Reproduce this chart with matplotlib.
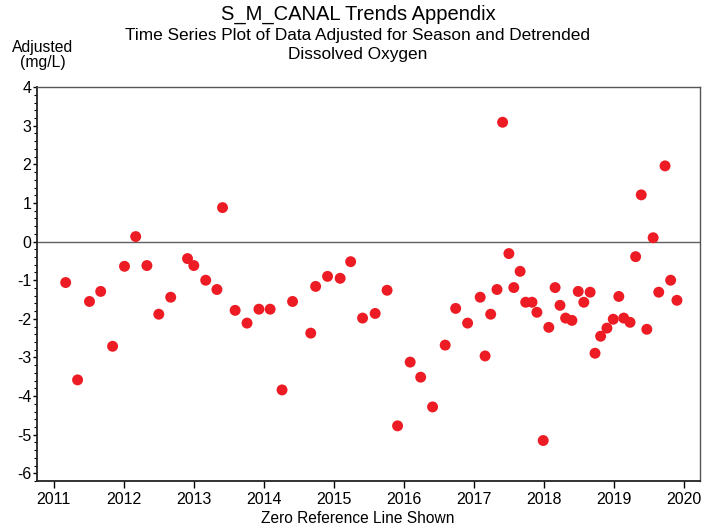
import matplotlib
matplotlib.use("Agg")
import matplotlib.pyplot as plt
from matplotlib.ticker import MultipleLocator

plt.rcParams['font.family'] = ['Liberation Sans', 'DejaVu Sans']
plt.rcParams['axes.unicode_minus'] = False

# decimal year of each sample and its adjusted, detrended value (mg/L)
sample_year = [
    2011.17, 2011.34, 2011.51, 2011.67, 2011.84, 2012.01, 2012.17, 2012.33,
    2012.50, 2012.67, 2012.91, 2013.00, 2013.17, 2013.33, 2013.41, 2013.59,
    2013.76, 2013.93, 2014.09, 2014.26, 2014.41, 2014.67, 2014.74, 2014.91,
    2015.09, 2015.24, 2015.41, 2015.59, 2015.76, 2015.91, 2016.09, 2016.24,
    2016.41, 2016.59, 2016.74, 2016.91, 2017.09, 2017.16, 2017.24, 2017.33,
    2017.41, 2017.50, 2017.57, 2017.66, 2017.74, 2017.83, 2017.90, 2017.99,
    2018.07, 2018.16, 2018.23, 2018.31, 2018.40, 2018.49, 2018.57, 2018.66,
    2018.73, 2018.81, 2018.90, 2018.99, 2019.07, 2019.14, 2019.23, 2019.31,
    2019.39, 2019.47, 2019.56, 2019.64, 2019.73, 2019.81, 2019.90,
]
adjusted_do = [
    -1.06, -3.58, -1.55, -1.29, -2.71, -0.64, 0.13, -0.62,
    -1.88, -1.44, -0.44, -0.62, -1.00, -1.24, 0.88, -1.78,
    -2.11, -1.75, -1.75, -3.84, -1.55, -2.37, -1.16, -0.90,
    -0.95, -0.52, -1.98, -1.86, -1.26, -4.77, -3.12, -3.51,
    -4.28, -2.68, -1.73, -2.11, -1.44, -2.96, -1.88, -1.24,
    3.09, -0.31, -1.19, -0.77, -1.57, -1.57, -1.83, -5.15,
    -2.22, -1.19, -1.65, -1.98, -2.04, -1.29, -1.57, -1.31,
    -2.89, -2.45, -2.24, -2.01, -1.42, -1.98, -2.09, -0.39,
    1.21, -2.27, 0.10, -1.31, 1.96, -1.00, -1.52,
]
year_ticks = list(range(2011, 2021))

fig = plt.figure(figsize=(7.18, 5.31), dpi=100)
ax = fig.add_axes([0.0515, 0.094, 0.9235, 0.742])

ax.axhline(0, color='#606060', linewidth=1.0, zorder=1)
ax.scatter(sample_year, adjusted_do, s=62, color='#ED1C24', edgecolors='none', zorder=3)

ax.set_xlim(2010.76, 2020.23)
ax.set_ylim(-6.2, 4.0)
ax.set_xticks(year_ticks)
ax.set_xticklabels([str(y) for y in year_ticks])
ax.yaxis.set_major_locator(MultipleLocator(1))
ax.yaxis.set_minor_locator(MultipleLocator(0.2))
ax.tick_params(axis='x', direction='out', length=5, width=1, labelsize=11.5, pad=3)
ax.tick_params(axis='y', which='major', direction='out', length=3, width=1, labelsize=11.5, pad=1)
ax.tick_params(axis='y', which='minor', direction='out', length=2, width=0.8)

for side in ['left', 'bottom']:
    ax.spines[side].set_linewidth(1.3)
    ax.spines[side].set_color('#222222')
for side in ['top', 'right']:
    ax.spines[side].set_linewidth(1.0)
    ax.spines[side].set_color('#555555')

fig.text(0.4986, 0.972, 'S_M_CANAL Trends Appendix', ha='center', va='center', fontsize=14.5)
fig.text(0.4986, 0.933, 'Time Series Plot of Data Adjusted for Season and Detrended',
         ha='center', va='center', fontsize=12.4)
fig.text(0.4986, 0.897, 'Dissolved Oxygen', ha='center', va='center', fontsize=12.4)
fig.text(0.059, 0.911, 'Adjusted', ha='center', va='center', fontsize=11.3)
fig.text(0.059, 0.882, '(mg/L)', ha='center', va='center', fontsize=11.3)
fig.text(0.4986, 0.024, 'Zero Reference Line Shown', ha='center', va='center', fontsize=11.2)

fig.savefig('out.png', dpi=100)
